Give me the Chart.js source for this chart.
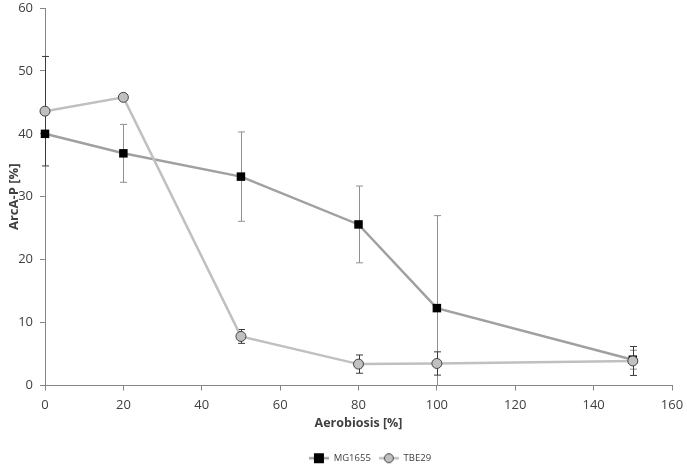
<!DOCTYPE html>
<html>
<head>
<meta charset="utf-8">
<script src="https://cdn.jsdelivr.net/npm/chart.js@4/dist/chart.umd.min.js"></script>
<style>
  html, body { margin: 0; padding: 0; background: #fff; }
  #wrap { width: 687px; height: 465px; position: relative; }
</style>
</head>
<body>
<div id="wrap"><canvas id="chart"></canvas></div>
<script>
/* Daten */
const aerobiosis = [0, 20, 50, 80, 100, 150];
const mgValues  = [40.0, 36.9, 33.2, 25.6, 12.3, 4.1];
const mgErr     = [0.5, 4.6, 7.1, 6.1, 14.7, 1.5];
const tbeValues = [43.6, 45.8, 7.8, 3.4, 3.5, 3.9];
const tbeErr    = [8.7, 0.3, 1.1, 1.45, 1.85, 2.3];
const xTicks = [0, 20, 40, 60, 80, 100, 120, 140, 160];
const yTicks = [0, 10, 20, 30, 40, 50, 60];

const FONT = "'Open Sans', 'Noto Sans', sans-serif";
const AXIS = '#868686';
const TEXT = '#404040';

/* Legendensymbol: Linie mit Marker */
function legendIcon(lineColor, marker) {
  const c = document.createElement('canvas');
  c.width = 20; c.height = 12;
  const g = c.getContext('2d');
  g.strokeStyle = lineColor; g.lineWidth = 2.5;
  g.beginPath(); g.moveTo(0, 6); g.lineTo(20, 6); g.stroke();
  if (marker === 'square') {
    g.fillStyle = '#000';
    g.fillRect(5, 1, 10, 10);
  } else {
    g.fillStyle = '#c0c0c0'; g.strokeStyle = '#404040'; g.lineWidth = 1;
    g.beginPath(); g.arc(10, 6, 4.5, 0, Math.PI * 2); g.fill(); g.stroke();
  }
  return c;
}

/* Fehlerbalken über die Skalen zeichnen */
const errorBars = {
  id: 'errorBars',
  beforeDatasetsDraw(chart) {
    const { ctx, chartArea, scales: { x, y } } = chart;
    ctx.save();
    ctx.beginPath();
    ctx.rect(chartArea.left - 6, chartArea.top - 2, chartArea.right - chartArea.left + 12, chartArea.bottom - chartArea.top + 2);
    ctx.clip();
    chart.data.datasets.forEach(ds => {
      ctx.strokeStyle = ds.errColor;
      ctx.lineWidth = 1;
      ds.data.forEach((v, i) => {
        const e = ds.errors[i];
        const px = Math.round(x.getPixelForValue(aerobiosis[i])) + 0.5;
        const top = y.getPixelForValue(v + e);
        const bot = y.getPixelForValue(v - e);
        ctx.beginPath();
        ctx.moveTo(px, top); ctx.lineTo(px, bot);
        ctx.moveTo(px - 3.5, top); ctx.lineTo(px + 3.5, top);
        ctx.moveTo(px - 3.5, bot); ctx.lineTo(px + 3.5, bot);
        ctx.stroke();
      });
    });
    ctx.restore();
  }
};

/* Legende wie im Original etwas nach rechts unten */
const legendShift = {
  id: 'legendShift',
  afterLayout(chart) {
    const l = chart.legend;
    l.left += 34; l.right += 34;
    l.top += 9; l.bottom += 9;
  }
};

new Chart(document.getElementById('chart'), {
  type: 'line',
  data: {
    labels: aerobiosis,
    datasets: [
      {
        label: 'MG1655',
        data: mgValues, errors: mgErr, errColor: '#8f8f8f',
        borderColor: '#a0a0a0', borderWidth: 2.5,
        pointStyle: 'rect', pointRadius: 6, pointHoverRadius: 6,
        pointBackgroundColor: '#000', pointBorderColor: '#000', pointBorderWidth: 0,
        legendIcon: legendIcon('#a0a0a0', 'square'),
        order: 2, tension: 0, clip: false,
      },
      {
        label: 'TBE29',
        data: tbeValues, errors: tbeErr, errColor: '#3a3a3a',
        borderColor: '#c0c0c0', borderWidth: 2.5,
        pointStyle: 'circle', pointRadius: 5, pointHoverRadius: 5,
        pointBackgroundColor: '#c0c0c0', pointBorderColor: '#404040', pointBorderWidth: 1,
        legendIcon: legendIcon('#c0c0c0', 'circle'),
        order: 1, tension: 0, clip: false,
      },
    ],
  },
  options: {
    responsive: true,
    maintainAspectRatio: false,
    animation: false,
    layout: { autoPadding: false, padding: { left: 0, right: 15, top: 8, bottom: 1 } },
    plugins: {
      tooltip: { enabled: false },
      legend: {
        position: 'bottom',
        labels: {
          usePointStyle: true,
          pointStyleWidth: 20,
          padding: 8,
          color: TEXT,
          font: { family: FONT, size: 9.5 },
          generateLabels(chart) {
            return chart.data.datasets.map((ds, i) => ({
              text: ds.label, pointStyle: ds.legendIcon, datasetIndex: i,
              fillStyle: 'transparent', strokeStyle: 'transparent', lineWidth: 0,
              fontColor: TEXT, hidden: false,
            }));
          },
        },
      },
    },
    scales: {
      x: {
        type: 'linear', min: 0, max: 160,
        afterFit: s => { s.height = 51; s.paddingRight = 0; s.paddingLeft = 0; },
        afterBuildTicks: s => { s.ticks = xTicks.map(v => ({ value: v })); },
        border: { color: AXIS, width: 1 },
        grid: { drawOnChartArea: false, color: AXIS, tickLength: 5 },
        ticks: { color: TEXT, font: { family: FONT, size: 13 }, padding: 7, maxRotation: 0 },
        title: { display: true, text: 'Aerobiosis [%]', color: TEXT,
                 font: { family: FONT, size: 12.5, weight: 'bold' }, padding: { top: 2, bottom: 6 } },
      },
      y: {
        min: 0, max: 60,
        afterFit: s => { s.width = 45; s.paddingTop = 0; s.paddingBottom = 0; },
        afterBuildTicks: s => { s.ticks = yTicks.map(v => ({ value: v })); },
        border: { color: AXIS, width: 1 },
        grid: { drawOnChartArea: false, color: AXIS, tickLength: 5 },
        ticks: { color: TEXT, font: { family: FONT, size: 13 }, padding: 7 },
        title: { display: true, text: 'ArcA-P [%]', color: TEXT,
                 font: { family: FONT, size: 13, weight: 'bold' }, padding: { top: 6, bottom: 4 } },
      },
    },
  },
  plugins: [errorBars, legendShift],
});
</script>
</body>
</html>
